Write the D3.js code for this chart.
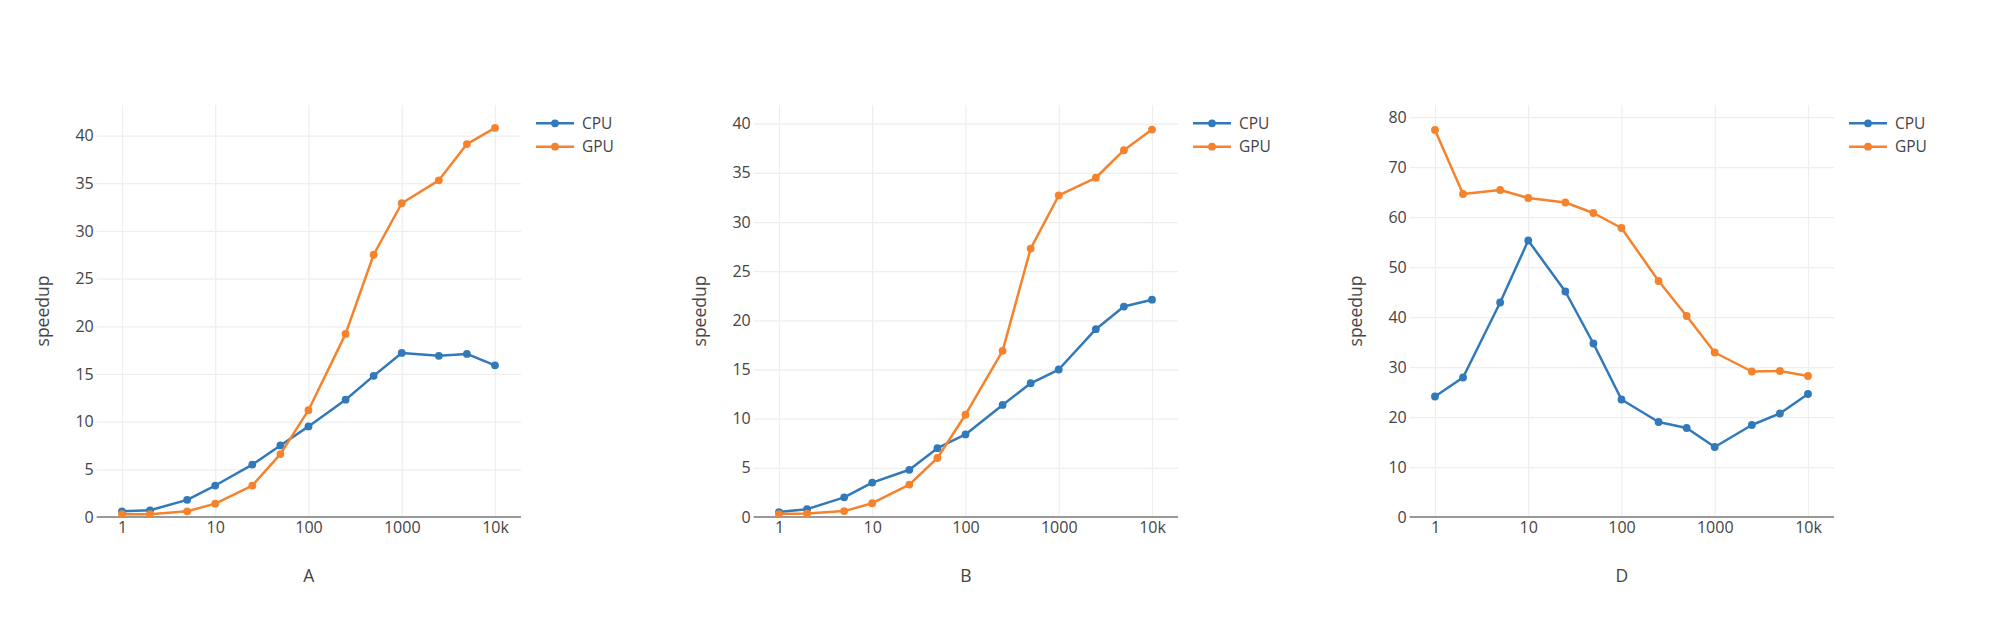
<!DOCTYPE html>
<html>
<head>
<meta charset="utf-8">
<script src="https://cdn.jsdelivr.net/npm/d3@7"></script>
<style>
  html, body { margin: 0; padding: 0; background: #fff; }
  svg { display: block; font-family: "Open Sans", verdana, arial, sans-serif; }
</style>
</head>
<body>
<svg id="chart" width="2000" height="626"></svg>
<script>
// ---- data ----
const xValues = [1, 2, 5, 10, 25, 50, 100, 250, 500, 1000, 2500, 5000, 10000];
const xTickValues = [1, 10, 100, 1000, 10000];
const xTickLabels = ["1", "10", "100", "1000", "10k"];
const seriesNames = ["CPU", "GPU"];
const panelTitles = ["A", "B", "D"];
const yAxisTitle = "speedup";

const cpuA = [0.6, 0.7, 1.8, 3.3, 5.5, 7.5, 9.5, 12.3, 14.8, 17.2, 16.9, 17.1, 15.9];
const gpuA = [0.3, 0.3, 0.6, 1.4, 3.3, 6.6, 11.2, 19.2, 27.5, 32.9, 35.3, 39.1, 40.8];
const cpuB = [0.5, 0.8, 2.0, 3.5, 4.8, 7.0, 8.4, 11.4, 13.6, 15.0, 19.1, 21.4, 22.1];
const gpuB = [0.3, 0.35, 0.6, 1.4, 3.3, 6.0, 10.4, 16.9, 27.3, 32.7, 34.5, 37.3, 39.4];
const cpuD = [24.1, 27.9, 42.9, 55.3, 45.1, 34.7, 23.5, 19.0, 17.8, 14.0, 18.4, 20.7, 24.6];
const gpuD = [77.4, 64.6, 65.4, 63.8, 62.9, 60.8, 57.8, 47.2, 40.2, 32.9, 29.1, 29.2, 28.2];

const yTicksA = [0, 5, 10, 15, 20, 25, 30, 35, 40];
const yTicksB = [0, 5, 10, 15, 20, 25, 30, 35, 40];
const yTicksD = [0, 10, 20, 30, 40, 50, 60, 70, 80];

const yMaxA = 43.2, yMaxB = 41.9, yMaxD = 82.4;

// ---- layout / style ----
const colors = ["#3179b8", "#f5832d"];
const textColor = "#444";
const panelLefts = [96.7, 753.7, 1409.7];
const plotW = 424.3;
const plotTop = 105, plotBottom = 517;
const xDomain = [Math.pow(10, -0.271), Math.pow(10, 4.279)];

const panels = [
  { title: panelTitles[0], series: [cpuA, gpuA], yTicks: yTicksA, yMax: yMaxA },
  { title: panelTitles[1], series: [cpuB, gpuB], yTicks: yTicksB, yMax: yMaxB },
  { title: panelTitles[2], series: [cpuD, gpuD], yTicks: yTicksD, yMax: yMaxD }
];

const svg = d3.select("#chart");

panels.forEach((p, i) => {
  const left = panelLefts[i];
  const x = d3.scaleLog().domain(xDomain).range([left, left + plotW]);
  const y = d3.scaleLinear().domain([0, p.yMax]).range([plotBottom, plotTop]);
  const g = svg.append("g");

  // vertical grid
  const gx = g.append("g").attr("transform", `translate(0,${plotBottom})`)
    .call(d3.axisBottom(x).tickValues(xTickValues).tickSize(-(plotBottom - plotTop)).tickFormat(""));
  gx.select(".domain").remove();
  gx.selectAll(".tick line").attr("stroke", "#eeeeee").attr("stroke-width", 1.25);

  // horizontal grid
  const gy = g.append("g").attr("transform", `translate(${left},0)`)
    .call(d3.axisLeft(y).tickValues(p.yTicks.filter(v => v > 0)).tickSize(-plotW).tickFormat(""));
  gy.select(".domain").remove();
  gy.selectAll(".tick line").attr("stroke", "#eeeeee").attr("stroke-width", 1.25);

  // zero line
  g.append("line")
    .attr("x1", left).attr("x2", left + plotW)
    .attr("y1", y(0)).attr("y2", y(0))
    .attr("stroke", "#999").attr("stroke-width", 2);

  // x tick labels
  const xl = g.append("g").attr("transform", `translate(0,${plotBottom})`)
    .call(d3.axisBottom(x).tickValues(xTickValues).tickSize(0).tickPadding(5)
      .tickFormat((d, k) => xTickLabels[k]));
  xl.select(".domain").remove();
  xl.selectAll("text").attr("fill", textColor).style("font-size", "16px")
    .style("font-family", "'Open Sans', verdana, arial, sans-serif");

  // y tick labels
  const yl = g.append("g").attr("transform", `translate(${left},0)`)
    .call(d3.axisLeft(y).tickValues(p.yTicks).tickSize(0).tickPadding(3).tickFormat(d3.format("d")));
  yl.select(".domain").remove();
  yl.selectAll("text").attr("fill", textColor).style("font-size", "16px")
    .style("font-family", "'Open Sans', verdana, arial, sans-serif");

  // axis titles
  g.append("text")
    .attr("x", left + plotW / 2).attr("y", 582)
    .attr("text-anchor", "middle").attr("fill", textColor)
    .style("font-size", "17.5px").text(p.title);
  g.append("text")
    .attr("transform", `translate(${left - 54},${(plotTop + plotBottom) / 2}) rotate(-90)`)
    .attr("text-anchor", "middle").attr("dy", "0.35em").attr("fill", textColor)
    .style("font-size", "17.5px").text(yAxisTitle);

  // traces
  const line = d3.line().x((d, k) => x(xValues[k])).y(d => y(d));
  p.series.forEach((vals, s) => {
    const tg = g.append("g");
    tg.append("path").datum(vals)
      .attr("d", line).attr("fill", "none")
      .attr("stroke", colors[s]).attr("stroke-width", 2.5)
      .attr("stroke-linejoin", "round");
    tg.selectAll("circle").data(vals).enter().append("circle")
      .attr("cx", (d, k) => x(xValues[k])).attr("cy", d => y(d))
      .attr("r", 3.9).attr("fill", colors[s]);
  });

  // legend
  const lx = left + plotW + 15;
  seriesNames.forEach((name, s) => {
    const ly = 123.3 + s * 23.4;
    svg.append("line").attr("x1", lx).attr("x2", lx + 38).attr("y1", ly).attr("y2", ly)
      .attr("stroke", colors[s]).attr("stroke-width", 2.5);
    svg.append("circle").attr("cx", lx + 19).attr("cy", ly).attr("r", 3.9).attr("fill", colors[s]);
    svg.append("text").attr("x", lx + 46).attr("y", ly).attr("dy", "0.35em")
      .attr("fill", textColor).style("font-size", "15.5px").text(name);
  });
});
</script>
</body>
</html>
